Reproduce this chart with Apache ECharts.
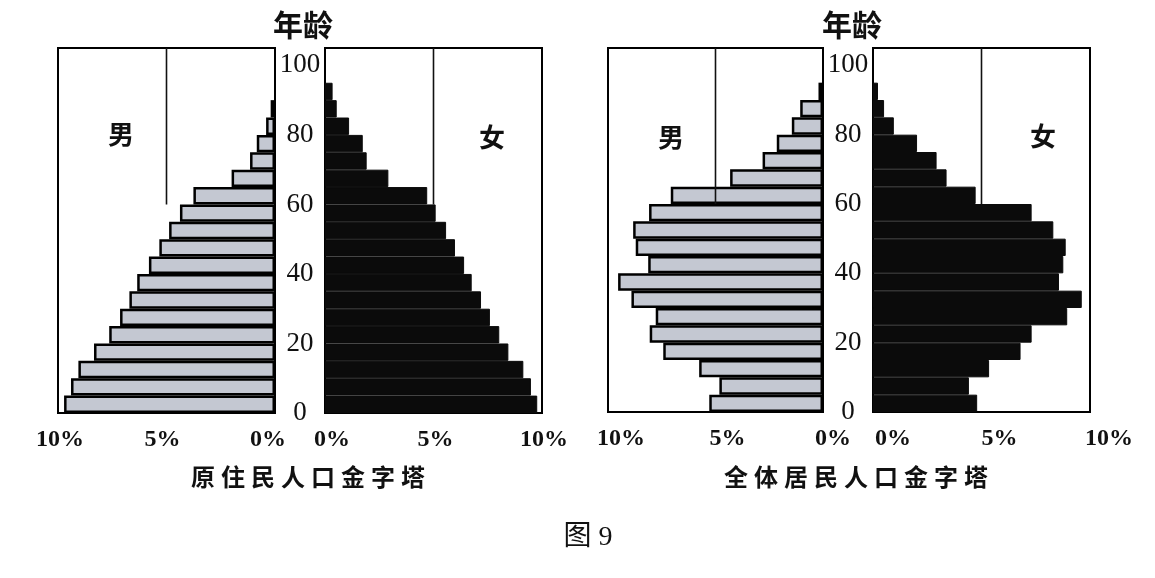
<!DOCTYPE html>
<html>
<head>
<meta charset="utf-8">
<script src="https://cdn.jsdelivr.net/npm/echarts@6/dist/echarts.min.js"></script>
<style>
html,body{margin:0;padding:0;background:#fff;}
#chart{width:1155px;height:578px;}
</style>
</head>
<body>
<div id="chart"></div>
<script>
// ---- data ----
const ageGroups = ['0-4','5-9','10-14','15-19','20-24','25-29','30-34','35-39','40-44','45-49',
  '50-54','55-59','60-64','65-69','70-74','75-79','80-84','85-89','90-94','95-99','100-104'];
const ageTicks = [0, 20, 40, 60, 80, 100];
const pctTicks = [0, 5, 10];
// 原住民人口金字塔 (%)
const maleNative   = [9.72, 9.40, 9.06, 8.34, 7.64, 7.14, 6.71, 6.35, 5.81, 5.33, 4.88, 4.38, 3.76, 2.00, 1.15, 0.84, 0.41, 0.20];
const femaleNative = [9.78, 9.49, 9.14, 8.45, 8.03, 7.60, 7.19, 6.76, 6.41, 5.99, 5.58, 5.10, 4.71, 2.92, 1.92, 1.74, 1.11, 0.54, 0.35];
// 全体居民人口金字塔 (%)
const maleAll      = [5.29, 4.82, 5.76, 7.43, 8.06, 7.78, 8.91, 9.53, 8.13, 8.71, 8.83, 8.09, 7.08, 4.32, 2.81, 2.15, 1.45, 1.06, 0.21];
const femaleAll    = [4.80, 4.42, 5.35, 6.80, 7.31, 8.95, 9.62, 8.57, 8.77, 8.88, 8.31, 7.31, 4.73, 3.39, 2.93, 2.03, 0.96, 0.51, 0.23];
// 5% reference line, drawn from age 60 to the top of each panel
const refPct = 5;
const refAges = [60, 105];
const ageMax = 105;
const pctMax = 10;

// ---- styles / layout ----
const SERIF = "'Liberation Serif','Times New Roman',serif";
const CJK = "'Noto Sans CJK SC','Noto Sans CJK JP',sans-serif";
const INK = '#111';
const grids = [
  {left: 58,  top: 48, width: 217, height: 365},  // 原住民 男
  {left: 325, top: 48, width: 217, height: 365},  // 原住民 女
  {left: 608, top: 48, width: 215, height: 364},  // 全体 男
  {left: 873, top: 48, width: 217, height: 364}   // 全体 女
];
const labelShift = [
  {0: -7, 5: -4, 10: 2},
  {0: 7, 5: 2, 10: 2},
  {0: 10, 5: 12, 10: 13},
  {0: 20, 5: 18, 10: 19}
];

function pctAxis(g, inverse) {
  const rich = {};
  pctTicks.forEach(v => {
    const s = labelShift[g][v] || 0;
    rich['s' + v] = {
      fontFamily: SERIF, fontSize: 24, fontWeight: 'bold', color: INK,
      padding: s >= 0 ? [0, 0, 0, 2 * s] : [0, -2 * s, 0, 0]
    };
  });
  return {
    type: 'value', gridIndex: g, min: 0, max: pctMax, interval: 5, inverse: inverse,
    axisLine: {show: false}, axisTick: {show: false}, splitLine: {show: false},
    axisLabel: {
      margin: 15, fontFamily: SERIF, fontSize: 24, fontWeight: 'bold', color: INK,
      formatter: v => '{s' + v + '|' + v + '%}', rich: rich
    }
  };
}

const xAxis = [pctAxis(0, true), pctAxis(1, false), pctAxis(2, true), pctAxis(3, false)];
const yAxis = [];
grids.forEach((gr, g) => {
  yAxis.push({
    type: 'category', gridIndex: g, data: ageGroups, show: false,
    axisLine: {show: false}, axisTick: {show: false}
  });
  const showLabels = (g === 1 || g === 3);
  yAxis.push({
    type: 'value', gridIndex: g, min: 0, max: ageMax, interval: 20, position: 'left',
    show: showLabels,
    axisLine: {show: false}, axisTick: {show: false}, splitLine: {show: false},
    axisLabel: {
      show: showLabels, margin: 25, align: 'center',
      fontFamily: SERIF, fontSize: 27, color: INK,
      formatter: v => ageTicks.includes(v) ? String(v) : ''
    }
  });
});

const maleStyle = {color: '#c4c8d2', borderColor: '#000', borderWidth: 2.5};
const femaleStyle = {color: '#0b0b0b', borderColor: '#0b0b0b', borderWidth: 1};
const pyramids = [maleNative, femaleNative, maleAll, femaleAll];
const series = [];
pyramids.forEach((arr, g) => {
  series.push({
    type: 'bar', xAxisIndex: g, yAxisIndex: 2 * g, data: arr,
    barCategoryGap: '0%', barGap: '0%', silent: true,
    itemStyle: (g % 2 === 0) ? maleStyle : femaleStyle
  });
});
pyramids.forEach((arr, g) => {
  series.push({
    type: 'line', xAxisIndex: g, yAxisIndex: 2 * g + 1,
    data: refAges.map(a => [refPct, a]), symbol: 'none', silent: true,
    lineStyle: {color: INK, width: 1.6}, z: 5
  });
});

function spaced(s) { return s.split('').join('\u2005'); }
function txt(x, y, text, size, weight, family) {
  return {type: 'text', x: x, y: y, silent: true,
    style: {text: text, fontSize: size, fontWeight: weight || 'normal', fontFamily: family || CJK,
      fill: INK, textAlign: 'center', textVerticalAlign: 'middle'}};
}

const option = {
  backgroundColor: '#fff',
  animation: false,
  grid: grids.map(gr => Object.assign({show: true, borderColor: '#000', borderWidth: 2,
    backgroundColor: 'transparent', containLabel: false, outerBoundsMode: 'none'}, gr)),
  xAxis: xAxis,
  yAxis: yAxis,
  series: series,
  graphic: [
    txt(303, 25, '年龄', 30, 'bold'),
    txt(852, 25, '年龄', 30, 'bold'),
    txt(121, 134, '男', 26, 'bold'),
    txt(492, 137, '女', 26, 'bold'),
    txt(671, 137, '男', 26, 'bold'),
    txt(1043, 136, '女', 26, 'bold'),
    txt(308, 477, spaced('原住民人口金字塔'), 24, 'bold'),
    txt(856, 477, spaced('全体居民人口金字塔'), 24, 'bold'),
    txt(588, 538, '图 9', 28, 'normal', "'Liberation Serif','Noto Sans CJK SC',serif")
  ]
};
echarts.init(document.getElementById('chart')).setOption(option);
</script>
</body>
</html>
